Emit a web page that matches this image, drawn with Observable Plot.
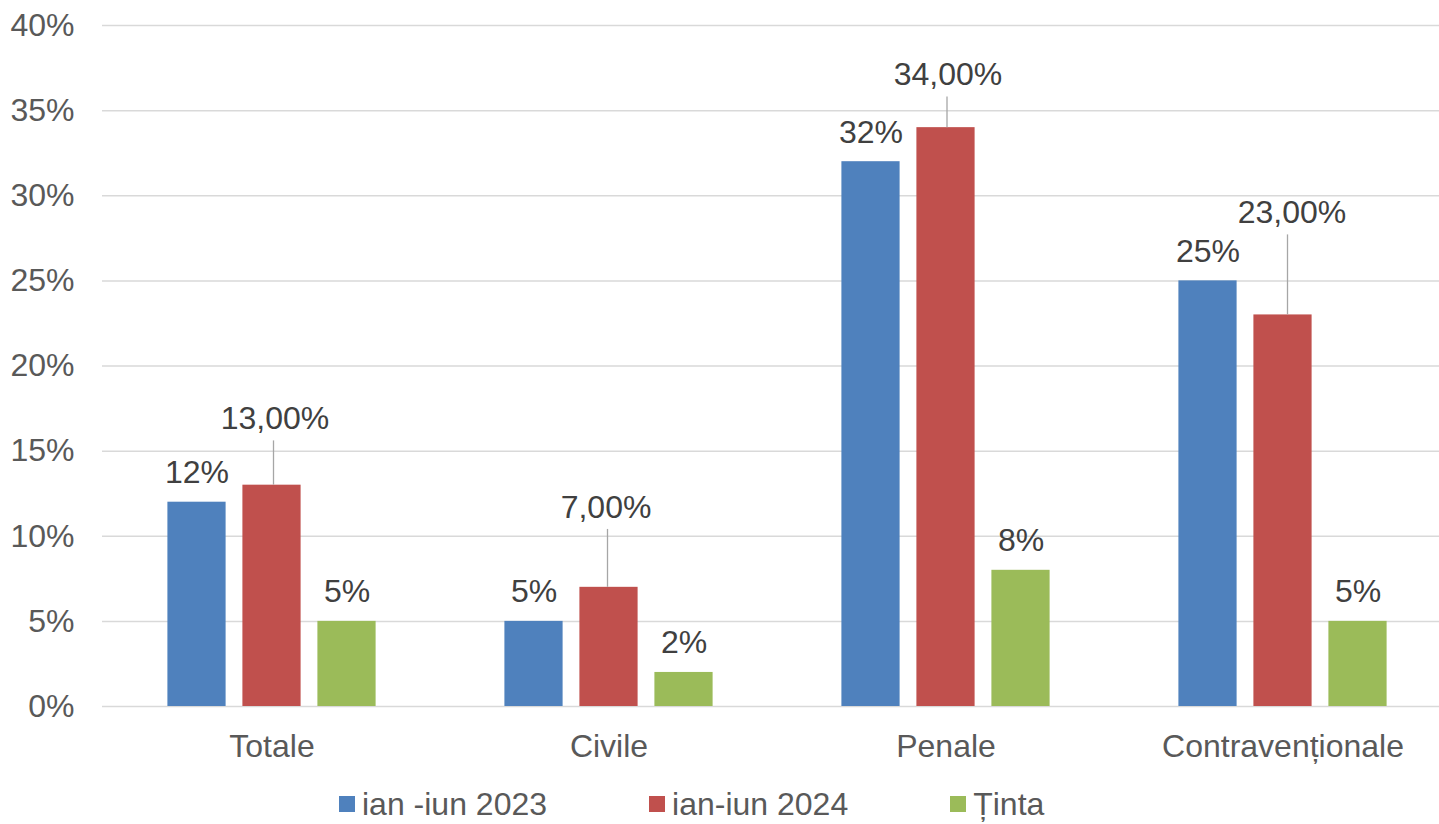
<!DOCTYPE html>
<html><head><meta charset="utf-8">
<script src="https://cdn.jsdelivr.net/npm/d3@7"></script>
<script src="https://cdn.jsdelivr.net/npm/@observablehq/plot@0.6"></script>
<style>
body{margin:0;background:#fff;font-family:"Liberation Sans",Arial,sans-serif;}
#legend{height:54px;box-sizing:border-box;padding-top:14px;padding-left:339px;display:flex;align-items:center;gap:102px;font-size:32px;color:#595959;}
#legend .item{display:flex;align-items:center;gap:7px;white-space:nowrap;}
#legend .sw{width:16px;height:16px;display:inline-block;}
</style></head><body>
<div id="chart"></div><div id="legend"></div>
<script>
const categories = ["Totale", "Civile", "Penale", "Contravenționale"];
const seriesNames = ["ian -iun 2023", "ian-iun 2024", "Ținta"];
const seriesColors = ["#4F81BD", "#C0504D", "#9BBB59"];
const values2023 = [12, 5, 32, 25];
const values2024 = [13, 7, 34, 23];
const valuesTinta = [5, 2, 8, 5];
// label anchor positions (in %) for the offset 2024 data labels, and their small horizontal shifts
const labels2024Y = [16.9, 11.7, 37.1, 29.0];
const labels2024Dx = [3, -3, 2, 9];
const yTicks = [0, 5, 10, 15, 20, 25, 30, 35, 40];

const idx = d3.range(categories.length);
const seriesValues = [values2023, values2024, valuesTinta];
const offsets = [-75, 0, 75];
const barInset = 139.4;
const labelColor = "#404040";
const fmtPct = v => v + "%";
const fmtPct2 = v => v.toFixed(2).replace(".", ",") + "%";

const marks = [
  Plot.ruleY(yTicks, {y: d => d, stroke: "#D9D9D9", strokeWidth: 1.5})
];
seriesValues.forEach((vals, s) => {
  marks.push(Plot.barY(idx, {
    x: i => categories[i], y: i => vals[i], fill: seriesColors[s],
    insetLeft: barInset, insetRight: barInset, dx: offsets[s]
  }));
});
// labels for 2023 and Ținta, directly above bars
[0, 2].forEach(s => {
  marks.push(Plot.text(idx, {
    x: i => categories[i], y: i => seriesValues[s][i], text: i => fmtPct(seriesValues[s][i]),
    dx: offsets[s], dy: -19, lineAnchor: "bottom", fill: labelColor, fontSize: 32
  }));
});
// offset labels for 2024 with leader lines
idx.forEach(i => {
  marks.push(Plot.ruleX([i], {
    x: j => categories[j], y1: j => values2024[j], y2: j => labels2024Y[j] - 1.3,
    dx: offsets[1] + labels2024Dx[i] / 2, stroke: "#A6A6A6", strokeWidth: 1.3
  }));
  marks.push(Plot.text([i], {
    x: j => categories[j], y: j => labels2024Y[j], text: j => fmtPct2(values2024[j]),
    dx: offsets[1] + labels2024Dx[i], lineAnchor: "middle", fill: labelColor, fontSize: 32
  }));
});

const chart = Plot.plot({
  width: 1439,
  height: 770,
  marginLeft: 102,
  marginRight: 0,
  marginTop: 25,
  marginBottom: 64,
  style: {fontFamily: '"Liberation Sans", Arial, sans-serif', fontSize: "32px", color: "#595959", background: "#fff", overflow: "visible"},
  x: {domain: categories, range: [102, 1451], padding: 0, tickSize: 0, tickPadding: 28, label: null},
  y: {domain: [0, 40], ticks: yTicks, tickFormat: d => d + "%", tickSize: 0, tickPadding: 28, label: null},
  marks
});
document.getElementById("chart").appendChild(chart);

const legend = document.getElementById("legend");
seriesNames.forEach((name, s) => {
  const item = document.createElement("div");
  item.className = "item";
  const sw = document.createElement("span");
  sw.className = "sw";
  sw.style.background = seriesColors[s];
  const t = document.createElement("span");
  t.textContent = name;
  item.appendChild(sw);
  item.appendChild(t);
  legend.appendChild(item);
});
</script>
</body></html>
